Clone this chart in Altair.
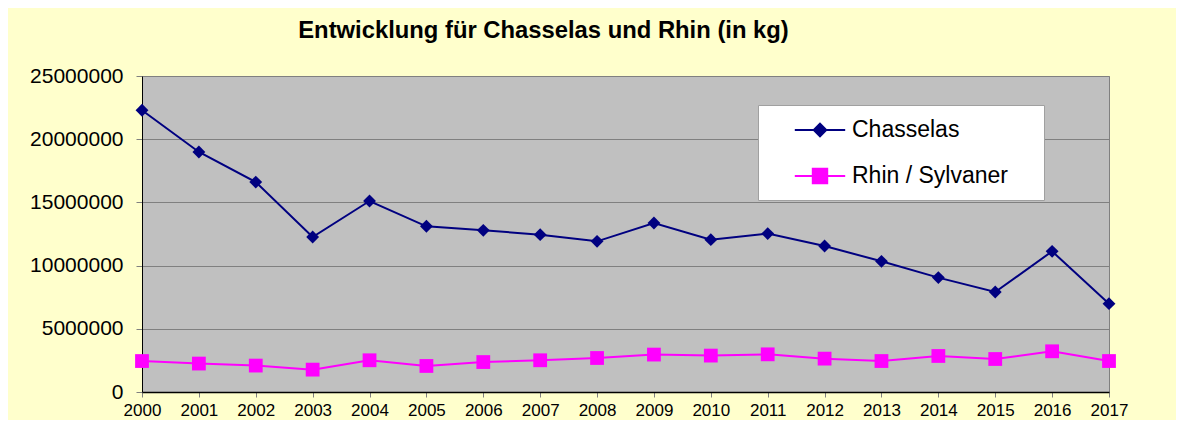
import altair as alt
import pandas as pd

years = list(range(2000, 2018))
chasselas = [22290000, 18990000, 16610000, 12260000, 15110000, 13110000, 12790000,
             12450000, 11920000, 13370000, 12050000, 12530000, 11550000, 10340000,
             9050000, 7910000, 11130000, 6990000]
rhin = [2450000, 2250000, 2090000, 1770000, 2510000, 2060000, 2370000, 2510000,
        2690000, 2960000, 2880000, 2980000, 2640000, 2450000, 2850000, 2610000,
        3220000, 2450000]
series_names = ["Chasselas", "Rhin / Sylvaner"]
series_colors = ["#000080", "#FF00FF"]
marker_shapes = ["diamond", "square"]
marker_sizes = [165, 190]
legend_shapes = ["M-2.1,0H2.1M0,-0.52L0.52,0L0,0.52L-0.52,0Z",
                 "M-2.1,0H2.1M-0.6,-0.6H0.6V0.6H-0.6Z"]
y_ticks = [0, 5000000, 10000000, 15000000, 20000000, 25000000]
title_text = "Entwicklung für Chasselas und Rhin (in kg)"

rows = []
for name, vals in zip(series_names, [chasselas, rhin]):
    for yr, v in zip(years, vals):
        rows.append({"year": str(yr), "series": name, "value": v})
df = pd.DataFrame(rows)

FONT = "Liberation Sans"

x_enc = alt.X("year:O", scale=alt.Scale(type="point", padding=0),
              axis=alt.Axis(labelAngle=0, title=None, grid=False, domainColor="black",
                            domainWidth=1.5, tickColor="#808080", tickSize=5,
                            labelFont=FONT, labelFontSize=17, labelColor="black",
                            labelPadding=5))
y_enc = alt.Y("value:Q", scale=alt.Scale(domain=[0, 25000000], nice=False),
              axis=alt.Axis(values=y_ticks, format="d", title=None, grid=True,
                            gridColor="#808080", gridWidth=1, domainColor="black",
                            domainWidth=1, tickColor="#808080", tickSize=6,
                            labelFont=FONT, labelFontSize=21, labelColor="black",
                            labelPadding=13))

color_scale = alt.Scale(domain=series_names, range=series_colors)

lines = alt.Chart(df).mark_line(strokeWidth=2).encode(
    x=x_enc, y=y_enc,
    color=alt.Color("series:N", scale=color_scale, legend=None),
)

points = alt.Chart(df).mark_point(filled=True, opacity=1).encode(
    x=x_enc, y=y_enc,
    color=alt.Color("series:N", scale=color_scale, legend=None),
    shape=alt.Shape("series:N", scale=alt.Scale(domain=series_names, range=marker_shapes), legend=None),
    size=alt.Size("series:N", scale=alt.Scale(domain=series_names, range=marker_sizes), legend=None),
)

leg = alt.Legend(orient="none", legendX=616, legendY=29, fillColor="white",
                 strokeColor="#a0a0a0", padding=12, symbolOffset=37, labelOffset=19,
                 rowPadding=21, labelFont=FONT, labelFontSize=23, labelColor="black",
                 title=None, symbolSize=576, symbolStrokeWidth=2, labelLimit=400,
                 labelExpr="datum.label + '\u00a0\u2800'")

legend_layer = alt.Chart(df).transform_filter("false").mark_point(filled=True, opacity=1).encode(
    color=alt.Color("series:N", scale=color_scale, legend=leg),
    stroke=alt.Stroke("series:N", scale=color_scale, legend=leg),
    shape=alt.Shape("series:N", scale=alt.Scale(domain=series_names, range=legend_shapes), legend=leg),
)

chart = alt.layer(lines, points, legend_layer).resolve_scale(
    color="independent", shape="independent", stroke="independent", size="independent"
).properties(
    width=967, height=316,
    autosize=alt.AutoSizeParams(type="none"),
    padding={"left": 134, "top": 68, "right": 67, "bottom": 28},
    background="#FFFFCC",
    view=alt.ViewBackground(fill="#C0C0C0", stroke="#808080", strokeWidth=1),
    title=alt.TitleParams(text=title_text, font=FONT, fontSize=23.8, fontWeight="bold",
                          color="black", anchor="middle", frame="group", dx=-82, offset=22),
).configure_view(fill="#C0C0C0", stroke="#808080", strokeWidth=1)

chart.save("out.html", embed_options={"renderer": "svg", "actions": False})
